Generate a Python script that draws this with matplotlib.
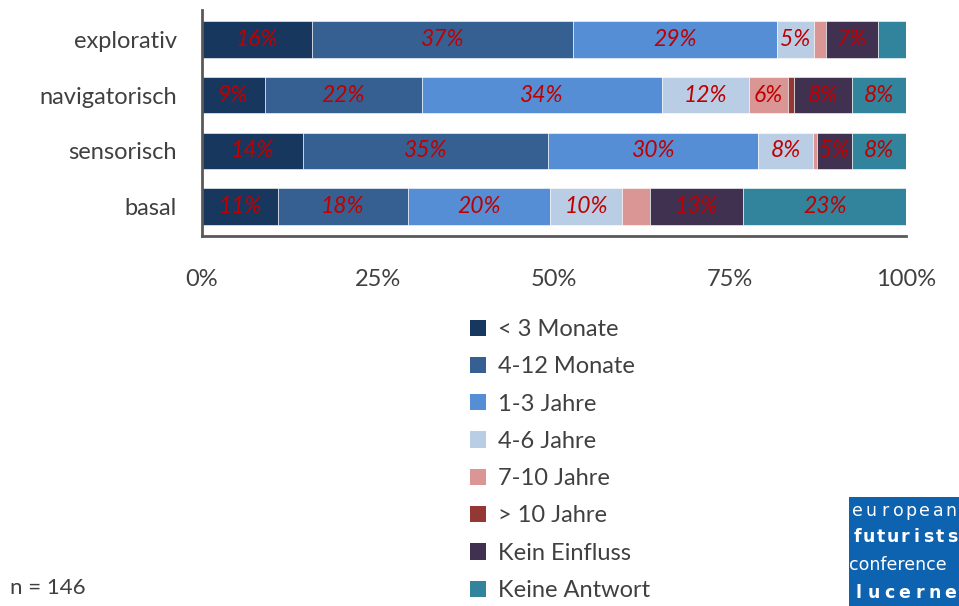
import matplotlib
matplotlib.use("Agg")
import matplotlib.pyplot as plt
from matplotlib.patches import Patch
import numpy as np

categories = ["explorativ", "navigatorisch", "sensorisch", "basal"]
series_names = ["< 3 Monate", "4-12 Monate", "1-3 Jahre", "4-6 Jahre",
                "7-10 Jahre", "> 10 Jahre", "Kein Einfluss", "Keine Antwort"]
colors = ["#17375E", "#376092", "#558ED5", "#B9CDE5",
          "#D99694", "#953735", "#403151", "#31849B"]

lt3m = [15.6, 8.9, 14.4, 10.8]
m4_12 = [37.1, 22.3, 34.8, 18.4]
y1_3 = [29.0, 34.2, 29.8, 20.2]
y4_6 = [5.2, 12.3, 7.8, 10.3]
y7_10 = [1.7, 5.6, 0.6, 3.9]
gt10 = [0.0, 0.8, 0.0, 0.0]
kein_einfluss = [7.4, 8.2, 4.9, 13.3]
keine_antwort = [4.0, 7.7, 7.7, 23.1]
series = [lt3m, m4_12, y1_3, y4_6, y7_10, gt10, kein_einfluss, keine_antwort]

xticks = [0, 25, 50, 75, 100]
xticklabels = ["0%", "25%", "50%", "75%", "100%"]
label_threshold = 4.5

plt.rcParams["font.family"] = ["Lato", "DejaVu Sans"]
W, H = 959, 606
fig = plt.figure(figsize=(W / 100, H / 100), dpi=100)
ax = fig.add_axes([202 / W, 1 - 236 / H, 704 / W, 226 / H])

ypos = np.arange(len(categories))
left = np.zeros(len(categories))
for name, vals, col in zip(series_names, series, colors):
    vals = np.array(vals)
    ax.barh(ypos, vals, left=left, height=0.65, color=col,
            edgecolor="white", linewidth=0.4, label=name)
    for yi, (l, v) in enumerate(zip(left, vals)):
        if v >= label_threshold:
            ax.text(l + v / 2, yi, f"{round(v)}%", ha="center", va="center",
                    color="#C00000", fontsize=16.5, style="italic")
    left = left + vals

ax.set_xlim(0, 100)
ax.set_ylim(3.53, -0.53)
ax.set_yticks(ypos)
ax.set_yticklabels(categories, fontsize=17, color="#404040")
ax.set_xticks(xticks)
ax.set_xticklabels(xticklabels, fontsize=17, color="#404040")
ax.tick_params(axis="x", length=0, pad=24)
ax.tick_params(axis="y", length=0, pad=18)
for s in ["top", "right"]:
    ax.spines[s].set_visible(False)
for s in ["left", "bottom"]:
    ax.spines[s].set_color("#595959")
    ax.spines[s].set_linewidth(2)
ax.spines["left"].set_zorder(5)

handles = [Patch(facecolor=c, edgecolor="none", label=n) for n, c in zip(series_names, colors)]
leg = fig.legend(handles=handles, loc="upper left", bbox_to_anchor=(470 / W, 1 - 319 / H),
                 frameon=False, fontsize=17, handlelength=0.68, handleheight=0.68,
                 handletextpad=0.5, labelspacing=0.69, borderpad=0, borderaxespad=0)
for t in leg.get_texts():
    t.set_color("#404040")

fig.text(10 / W, 1 - 588 / H, "n = 146", fontsize=16, color="#404040", va="center")

# logo
lax = fig.add_axes([849 / W, 0, 110 / W, 109 / H])
lax.set_xlim(0, 1)
lax.set_ylim(0, 1)
lax.axis("off")
lax.add_patch(plt.Rectangle((0, 0), 1, 1, color="#0E63B0", transform=lax.transAxes))

def spaced(word, y, bold):
    n = len(word)
    for i, ch in enumerate(word):
        lax.text(0.02 + (i + 0.5) * 0.97 / n, y, ch, ha="center", va="center",
                 color="white", fontsize=12.5, family="DejaVu Sans",
                 fontweight="bold" if bold else "normal")

spaced("european", 0.87, False)
spaced("futurists", 0.63, True)
lax.text(0.0, 0.375, "conference", ha="left", va="center", color="white",
         fontsize=12.5, family="DejaVu Sans")
spaced("lucerne", 0.12, True)

fig.savefig("out.png", dpi=100)
